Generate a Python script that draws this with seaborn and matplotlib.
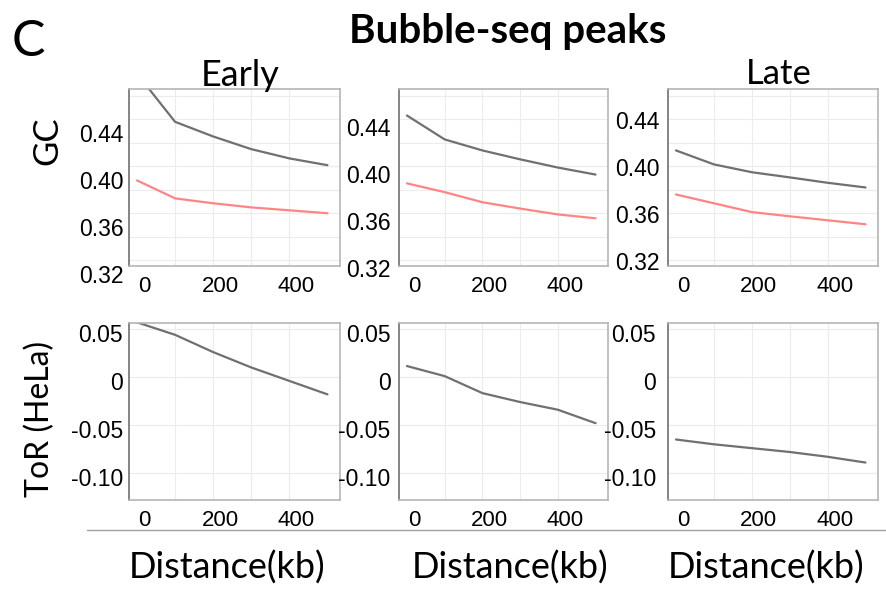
import numpy as np
import pandas as pd
import seaborn as sns
import matplotlib
matplotlib.use("Agg")
import matplotlib.pyplot as plt
from matplotlib.transforms import ScaledTranslation
from matplotlib.lines import Line2D

# ---------------- data ----------------
distance = [0, 100, 200, 300, 400, 500]
gc_early_peaks = [0.479, 0.438, 0.4255, 0.4147, 0.4068, 0.401]
gc_early_ctrl = [0.388, 0.3727, 0.3685, 0.365, 0.3625, 0.360]
gc_mid_peaks = [0.4434, 0.423, 0.4136, 0.406, 0.399, 0.393]
gc_mid_ctrl = [0.3855, 0.378, 0.3694, 0.364, 0.359, 0.3557]
gc_late_peaks = [0.4136, 0.4017, 0.395, 0.3906, 0.386, 0.382]
gc_late_ctrl = [0.376, 0.3685, 0.361, 0.3574, 0.354, 0.3506]
tor_early = [0.057, 0.044, 0.026, 0.010, -0.004, -0.018]
tor_mid = [0.0115, 0.001, -0.0167, -0.026, -0.034, -0.048]
tor_late = [-0.065, -0.070, -0.074, -0.078, -0.083, -0.089]

gc_ticks = [0.32, 0.36, 0.40, 0.44]
gc_tick_labels = ["0.32", "0.36", "0.40", "0.44"]
tor_ticks = [-0.10, -0.05, 0, 0.05]
tor_tick_labels = ["-0.10", "-0.05", "0", "0.05"]
x_ticks = [0, 100, 200, 300, 400, 500]
x_tick_labels = ["0", "", "200", "", "400", ""]

GRAY = "#707070"
RED = "#ff8585"

sns.set_theme(style="white")
plt.rcParams["font.family"] = ["Liberation Sans", "DejaVu Sans"]
plt.rcParams["text.color"] = "black"
plt.rcParams["axes.labelcolor"] = "black"

fig = plt.figure(figsize=(8.87, 5.92), dpi=100)
W, H = 887, 592

def ax_at(x0, y0, x1, y1):
    return fig.add_axes([x0 / W, 1 - y1 / H, (x1 - x0) / W, (y1 - y0) / H])

top_x = [(129, 340), (399, 608), (668, 878)]
top_axes = [ax_at(a, 89, b, 266) for a, b in top_x]
bot_axes = [ax_at(a, 323, b, 500) for a, b in top_x]

gc_sets = [(gc_early_peaks, gc_early_ctrl), (gc_mid_peaks, gc_mid_ctrl), (gc_late_peaks, gc_late_ctrl)]
tor_sets = [tor_early, tor_mid, tor_late]

def style(ax, ylim, major, labels, minor, grid, ylab_shift, ypad):
    ax.set_xlim(-21, 533)
    ax.set_ylim(*ylim)
    ax.set_xticks(x_ticks)
    ax.set_xticklabels(x_tick_labels)
    ax.set_yticks(major)
    ax.set_yticklabels(labels)
    if minor:
        ax.set_yticks(minor, minor=True)
    for g in grid:
        ax.axhline(g, color="#ececec", lw=0.8, zorder=0)
    for gx in [100, 200, 300, 400]:
        ax.axvline(gx, color="#ececec", lw=0.8, zorder=0)
    ax.tick_params(axis="both", which="both", direction="out", length=3.5, width=0.8,
                   color="#909090", labelcolor="black")
    ax.tick_params(axis="x", labelsize=16, pad=4)
    ax.tick_params(axis="y", labelsize=16.5, pad=ypad)
    ax.set_xlabel("")
    ax.set_ylabel("")
    for s in ["top", "right", "bottom"]:
        ax.spines[s].set_color("#b5b5b5")
        ax.spines[s].set_linewidth(1.2)
    ax.spines["left"].set_color("#707070")
    ax.spines["left"].set_linewidth(1.2)
    off = ScaledTranslation(0.07, 0, fig.dpi_scale_trans)
    for lab in ax.get_xticklabels():
        lab.set_transform(lab.get_transform() + off)
    offy = ScaledTranslation(0, -ylab_shift / 100, fig.dpi_scale_trans)
    for lab in ax.get_yticklabels():
        lab.set_transform(lab.get_transform() + offy)

gc_shifts = [14, 8, 1]
gc_pads = [0.5, 2.5, 2.5]
for i, ax in enumerate(top_axes):
    peaks, ctrl = gc_sets[i]
    df = pd.DataFrame({"Distance": distance * 2,
                       "GC": list(peaks) + list(ctrl),
                       "set": ["peaks"] * len(distance) + ["control"] * len(distance)})
    sns.lineplot(data=df, x="Distance", y="GC", hue="set",
                 palette={"peaks": GRAY, "control": RED}, ax=ax, legend=False,
                 linewidth=1.6)
    style(ax, (0.315, 0.466), gc_ticks, gc_tick_labels,
          [0.34, 0.38, 0.42, 0.46],
          [0.32, 0.34, 0.36, 0.38, 0.40, 0.42, 0.44, 0.46], gc_shifts[i], gc_pads[i])

tor_pads = [1.0, 2.5, 5.0]
for i, ax in enumerate(bot_axes):
    df = pd.DataFrame({"Distance": distance, "ToR": tor_sets[i]})
    sns.lineplot(data=df, x="Distance", y="ToR", color=GRAY, ax=ax, linewidth=1.6)
    style(ax, (-0.128, 0.0563), tor_ticks, tor_tick_labels, None,
          [-0.10, -0.05, 0, 0.05], 4, tor_pads[i])

# ---------------- texts ----------------
def ftext(x, y, s, **kw):
    fig.text(x / W, 1 - y / H, s, **kw)

FAM = ["Lato", "DejaVu Sans"]
ftext(28, 42, "C", fontsize=36, family=FAM, ha="center", va="center")
ftext(508, 32, "Bubble-seq peaks", fontsize=29, fontweight="bold",
      family=FAM, ha="center", va="center")
ftext(240, 76, "Early", fontsize=26, family=FAM, ha="center", va="center")
ftext(779, 74, "Late", fontsize=25, family=FAM, ha="center", va="center")
ftext(47, 141, "GC", fontsize=25, family=FAM, rotation=90,
      ha="center", va="center")
ftext(40, 419, "ToR (HeLa)", fontsize=23, family=FAM, rotation=90,
      ha="center", va="center")
for cx in [227, 510, 766]:
    ftext(cx, 568, "Distance(kb)", fontsize=26, family=FAM,
          ha="center", va="center")

fig.add_artist(Line2D([87 / W, 1.0], [1 - 530 / H, 1 - 530 / H], color="#a0a0a0", lw=1.0))

fig.savefig("out.png", dpi=100, facecolor="white")
